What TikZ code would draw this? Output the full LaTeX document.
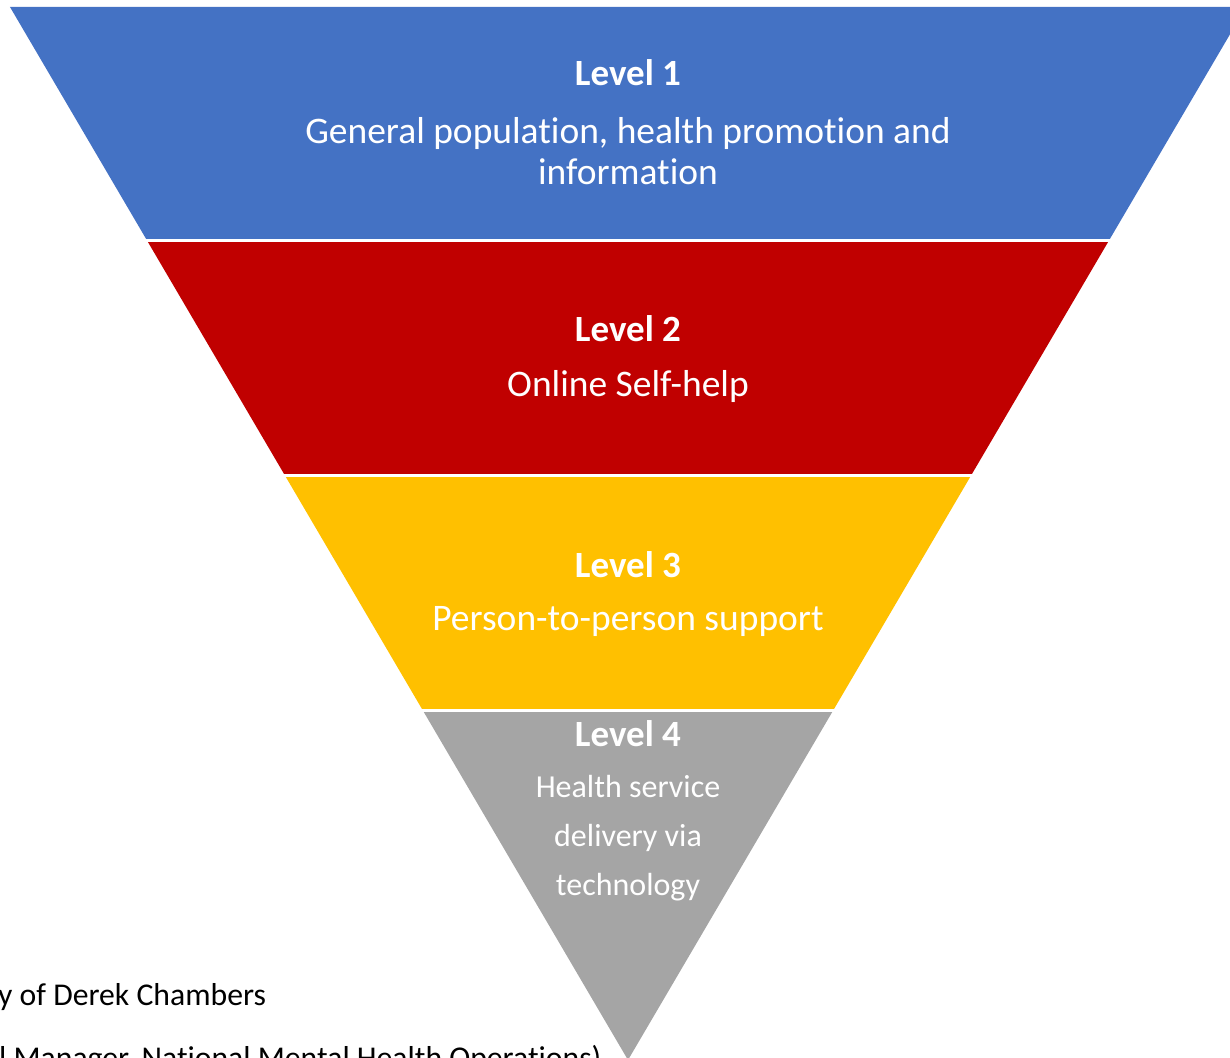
\documentclass[tikz,border=0pt]{standalone}
\usepackage{fontspec}
\setmainfont{Carlito}[Ligatures={NoCommon}]
\definecolor{lvblue}{HTML}{4472C4}
\definecolor{lvred}{HTML}{C00000}
\definecolor{lvgold}{HTML}{FFC000}
\definecolor{lvgrey}{HTML}{A5A5A5}
\tikzset{
  lvtitle/.style={text=white, inner sep=0pt, font=\fontsize{37}{40}\selectfont\bfseries},
  lvtext/.style={text=white, inner sep=0pt, align=center, font=\fontsize{37.5}{41}\selectfont},
  credit/.style={text=black, inner sep=0pt, anchor=base west, font=\fontsize{31.7}{40}\selectfont}
}
\begin{document}
\begin{tikzpicture}[x=1pt, y=-1pt, line join=round, line cap=round]
	\def\cx{628} \def\ytop{7} \def\apex{1060} \def\k{0.5869} % funnel: apex and half-width slope
	\useasboundingbox (0,0) rectangle (1230,1057);
	% credit lines (cut by the page)
	\node[credit] (cr1) at (-2,1005) {y of Derek Chambers};
	\node[credit] (cr2) at (-1,1068) {l Manager, National Mental Health Operations)};
	% bands
	\foreach \ya/\yb/\col in {\ytop/240.5/lvblue, 240.5/475.5/lvred, 475.5/710.5/lvgold, 710.5/\apex/lvgrey}{
		\fill[\col] ({\cx-\k*(\apex-\ya)},\ya) -- ({\cx+\k*(\apex-\ya)},\ya)
			-- ({\cx+\k*(\apex-\yb)},\yb) -- ({\cx-\k*(\apex-\yb)},\yb) -- cycle;
	}
	\foreach \y in {240.5,475.5,710.5}{
		\draw[white, line width=3pt, line cap=butt] ({\cx-\k*(\apex-\y)-2},\y) -- ({\cx+\k*(\apex-\y)+2},\y);
	}
	% labels
	\node[lvtitle] (lv1) at (\cx,73) {Level 1};
	\node[lvtext] (tx1) at (\cx,151) {General population, health promotion and\\information};
	\node[lvtitle] (lv2) at (\cx,329) {Level 2};
	\node[lvtext] (tx2) at (\cx,386) {Online Self-help};
	\node[lvtitle] (lv3) at (\cx,565) {Level 3};
	\node[lvtext] (tx3) at (\cx,621) {Person-to-person support};
	\node[lvtitle] (lv4) at (\cx,734) {Level 4};
	\node[lvtext, font=\fontsize{32}{49}\selectfont] (tx4) at (\cx,838) {Health service\\delivery via\\technology};
\end{tikzpicture}
\end{document}
